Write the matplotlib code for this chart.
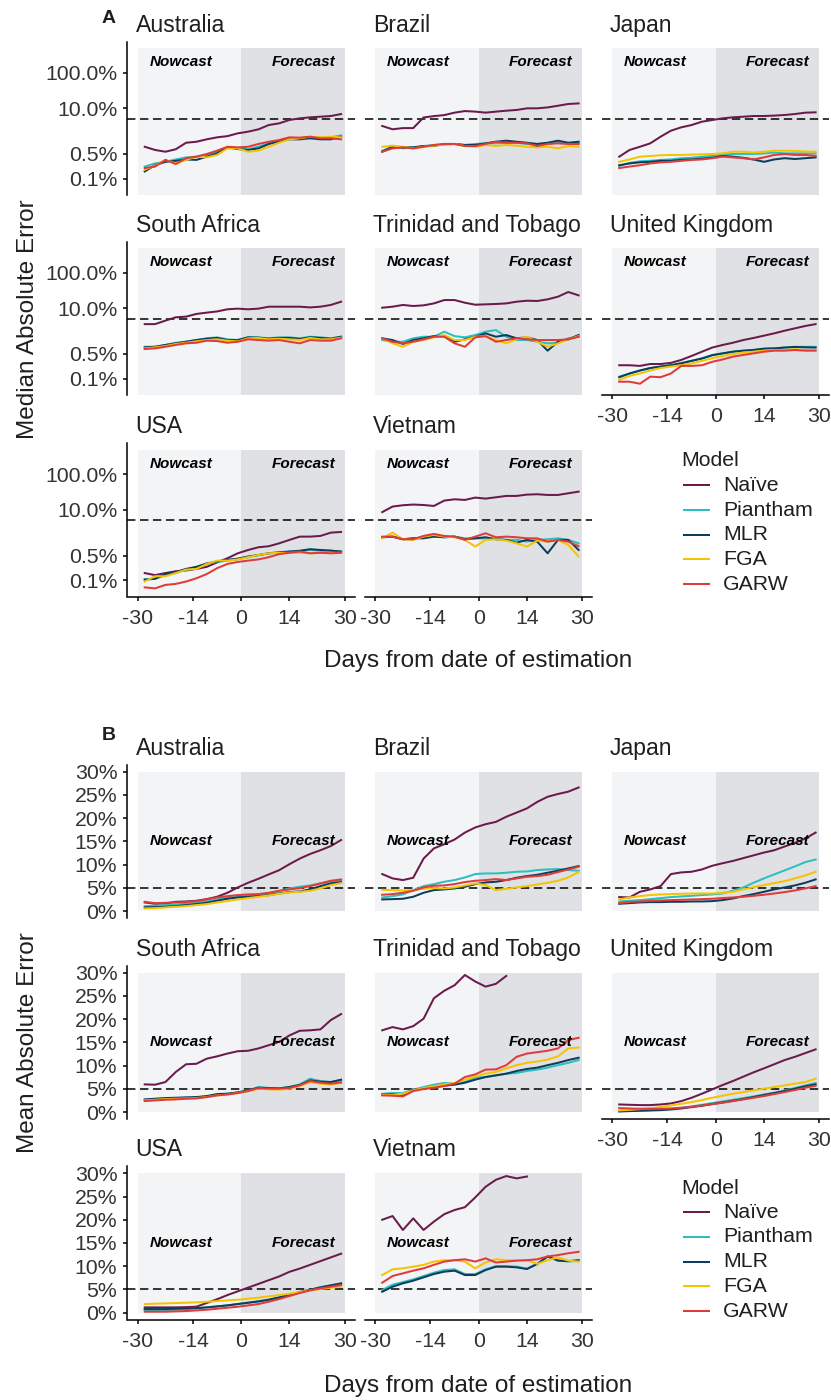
import matplotlib.pyplot as plt
from matplotlib.lines import Line2D
from matplotlib.patches import Rectangle
from matplotlib.ticker import NullLocator

plt.rcParams['font.family'] = ['Liberation Sans', 'DejaVu Sans']

nan = float('nan')

# days relative to the date of estimation
days = list(range(-28, 30, 3))
models = ['Naïve', 'Piantham', 'MLR', 'FGA', 'GARW']
colours = ['#6b1a4c', '#2cbfbf', '#0c3d5c', '#f5c400', '#e03b3b']
countries = ['Australia', 'Brazil', 'Japan', 'South Africa', 'Trinidad and Tobago',
             'United Kingdom', 'USA', 'Vietnam']

# median absolute error (%), rows follow `models`
med_australia = [
    [0.80, 0.65, 0.58, 0.68, 1.04, 1.11, 1.30, 1.48, 1.60, 1.92, 2.14, 2.49, 3.30, 3.68, 4.58, 5.10, 5.45, 5.68, 5.94, 6.76],
    [0.22, 0.27, 0.30, 0.35, 0.40, 0.42, 0.47, 0.58, 0.77, 0.72, 0.68, 0.80, 1.00, 1.19, 1.39, 1.39, 1.48, 1.42, 1.48, 1.68],
    [0.16, 0.24, 0.30, 0.32, 0.35, 0.34, 0.42, 0.52, 0.77, 0.69, 0.65, 0.72, 0.96, 1.14, 1.30, 1.30, 1.39, 1.30, 1.30, 1.54],
    [0.18, 0.23, 0.34, 0.27, 0.34, 0.42, 0.40, 0.47, 0.72, 0.72, 0.58, 0.62, 0.80, 1.04, 1.30, 1.39, 1.54, 1.48, 1.54, 1.48],
    [0.20, 0.22, 0.34, 0.26, 0.38, 0.42, 0.50, 0.62, 0.80, 0.77, 0.80, 0.96, 1.11, 1.24, 1.48, 1.45, 1.54, 1.39, 1.39, 1.30],
]
med_brazil = [
    [3.1, 2.5, 2.7, 2.7, 5.4, 5.9, 6.3, 7.4, 8.2, 7.9, 7.4, 7.9, 8.4, 8.8, 9.8, 9.8, 10.4, 11.6, 13.0, 13.5],
    [0.62, 0.80, 0.72, 0.77, 0.84, 0.90, 0.92, 0.96, 0.90, 0.96, 1.00, 1.00, 1.04, 1.04, 0.96, 0.96, 1.00, 1.04, 1.00, 1.04],
    [0.58, 0.80, 0.77, 0.77, 0.84, 0.84, 0.96, 0.96, 0.90, 0.90, 1.00, 1.11, 1.19, 1.11, 1.04, 0.96, 1.04, 1.19, 1.04, 1.11],
    [0.80, 0.86, 0.80, 0.72, 0.80, 0.86, 0.92, 0.96, 0.84, 0.80, 0.90, 0.84, 0.90, 0.86, 0.80, 0.77, 0.80, 0.72, 0.84, 0.80],
    [0.58, 0.72, 0.77, 0.72, 0.80, 0.90, 0.96, 0.96, 0.84, 0.84, 0.96, 1.11, 1.04, 1.04, 1.00, 0.84, 0.96, 1.00, 0.96, 0.96],
]
med_japan = [
    [0.42, 0.65, 0.80, 1.00, 1.54, 2.28, 2.84, 3.30, 4.10, 4.58, 5.10, 5.45, 5.68, 5.94, 5.94, 6.10, 6.34, 6.76, 7.38, 7.55],
    [0.23, 0.28, 0.31, 0.32, 0.34, 0.35, 0.38, 0.39, 0.42, 0.44, 0.48, 0.50, 0.50, 0.50, 0.52, 0.55, 0.52, 0.52, 0.52, 0.52],
    [0.24, 0.27, 0.29, 0.30, 0.32, 0.32, 0.34, 0.35, 0.37, 0.39, 0.44, 0.42, 0.39, 0.35, 0.30, 0.35, 0.38, 0.36, 0.38, 0.40],
    [0.30, 0.35, 0.42, 0.44, 0.46, 0.47, 0.47, 0.48, 0.49, 0.50, 0.52, 0.58, 0.58, 0.55, 0.58, 0.62, 0.62, 0.61, 0.59, 0.58],
    [0.20, 0.22, 0.24, 0.27, 0.29, 0.30, 0.32, 0.34, 0.35, 0.38, 0.42, 0.40, 0.38, 0.35, 0.40, 0.47, 0.50, 0.47, 0.47, 0.44],
]
med_south_africa = [
    [3.5, 3.5, 4.4, 5.45, 5.7, 6.8, 7.4, 8.0, 9.2, 9.6, 9.2, 9.6, 10.9, 10.9, 10.9, 10.9, 10.4, 10.9, 12.2, 15.1],
    [0.80, 0.80, 0.90, 1.04, 1.11, 1.24, 1.39, 1.48, 1.30, 1.24, 1.48, 1.48, 1.39, 1.48, 1.48, 1.39, 1.54, 1.48, 1.39, 1.54],
    [0.77, 0.80, 0.90, 1.00, 1.11, 1.24, 1.35, 1.42, 1.24, 1.24, 1.48, 1.45, 1.35, 1.42, 1.42, 1.33, 1.48, 1.42, 1.35, 1.54],
    [0.72, 0.77, 0.84, 0.96, 1.04, 1.14, 1.24, 1.30, 1.19, 1.14, 1.39, 1.42, 1.30, 1.35, 1.30, 1.24, 1.42, 1.30, 1.30, 1.45],
    [0.69, 0.72, 0.80, 0.90, 1.00, 1.04, 1.19, 1.16, 1.04, 1.11, 1.30, 1.24, 1.19, 1.24, 1.11, 1.00, 1.24, 1.19, 1.19, 1.39],
]
med_trinidad = [
    [10.2, 10.9, 12.2, 11.4, 11.9, 13.5, 16.8, 16.8, 14.1, 12.4, 12.7, 13.0, 13.5, 15.1, 16.1, 15.8, 17.6, 20.9, 28.4, 22.8],
    [1.24, 1.11, 1.11, 1.39, 1.54, 1.54, 2.14, 1.60, 1.48, 1.72, 2.14, 2.38, 1.54, 1.24, 1.24, 1.11, 1.00, 1.04, 1.39, 1.54],
    [1.39, 1.24, 0.96, 1.24, 1.39, 1.60, 1.60, 1.11, 1.30, 1.54, 1.92, 1.54, 1.72, 1.39, 1.48, 1.24, 0.62, 1.11, 1.30, 1.72],
    [1.39, 1.00, 0.80, 1.11, 1.24, 1.48, 1.72, 1.24, 1.24, 1.54, 1.60, 1.24, 1.00, 1.30, 1.54, 1.11, 0.80, 1.00, 1.30, 1.60],
    [1.39, 1.11, 1.00, 1.11, 1.30, 1.54, 1.54, 1.00, 0.80, 1.48, 1.60, 1.11, 1.24, 1.39, 1.30, 1.24, 1.24, 1.24, 1.30, 1.54],
]
med_uk = [
    [0.24, 0.24, 0.23, 0.26, 0.26, 0.28, 0.34, 0.44, 0.58, 0.76, 0.90, 1.04, 1.24, 1.42, 1.65, 1.92, 2.28, 2.66, 3.10, 3.50],
    [0.114, 0.14, 0.17, 0.20, 0.22, 0.24, 0.28, 0.32, 0.38, 0.47, 0.52, 0.58, 0.62, 0.65, 0.69, 0.72, 0.76, 0.80, 0.80, 0.80],
    [0.11, 0.14, 0.17, 0.20, 0.22, 0.24, 0.27, 0.32, 0.37, 0.46, 0.52, 0.58, 0.62, 0.65, 0.71, 0.72, 0.76, 0.79, 0.77, 0.76],
    [0.092, 0.12, 0.14, 0.17, 0.20, 0.22, 0.24, 0.27, 0.32, 0.38, 0.44, 0.50, 0.55, 0.58, 0.62, 0.65, 0.65, 0.68, 0.65, 0.65],
    [0.082, 0.082, 0.072, 0.114, 0.11, 0.14, 0.23, 0.23, 0.24, 0.30, 0.35, 0.42, 0.47, 0.52, 0.58, 0.62, 0.62, 0.65, 0.62, 0.62],
]
med_usa = [
    [0.16, 0.14, 0.16, 0.18, 0.19, 0.21, 0.24, 0.32, 0.42, 0.58, 0.72, 0.86, 0.92, 1.11, 1.39, 1.72, 1.72, 1.80, 2.23, 2.33],
    [0.105, 0.11, 0.14, 0.16, 0.20, 0.23, 0.29, 0.33, 0.36, 0.39, 0.45, 0.51, 0.58, 0.60, 0.65, 0.69, 0.72, 0.69, 0.69, 0.65],
    [0.105, 0.11, 0.15, 0.17, 0.21, 0.24, 0.30, 0.34, 0.38, 0.41, 0.47, 0.52, 0.58, 0.62, 0.65, 0.68, 0.76, 0.72, 0.69, 0.65],
    [0.092, 0.13, 0.13, 0.16, 0.20, 0.21, 0.29, 0.36, 0.36, 0.39, 0.45, 0.52, 0.58, 0.60, 0.60, 0.60, 0.58, 0.60, 0.60, 0.60],
    [0.063, 0.059, 0.074, 0.079, 0.092, 0.114, 0.15, 0.22, 0.29, 0.33, 0.36, 0.39, 0.45, 0.55, 0.60, 0.65, 0.58, 0.60, 0.58, 0.60],
]
med_vietnam = [
    [8.5, 12.2, 13.3, 13.9, 13.5, 12.7, 18.0, 19.6, 18.8, 21.9, 20.5, 22.3, 24.4, 24.4, 26.6, 27.2, 26.0, 26.0, 29.0, 32.3],
    [1.65, 1.72, 1.45, 1.54, 1.65, 1.72, 1.65, 1.72, 1.54, 1.54, 1.54, 1.45, 1.39, 1.39, 1.24, 1.39, 1.45, 1.54, 1.39, 1.11],
    [1.65, 1.72, 1.45, 1.54, 1.54, 1.72, 1.65, 1.72, 1.45, 1.54, 1.65, 1.45, 1.39, 1.16, 1.39, 1.24, 0.58, 1.39, 1.39, 0.72],
    [1.54, 2.23, 1.45, 1.39, 1.72, 1.92, 1.72, 1.65, 1.39, 0.90, 1.39, 1.45, 1.33, 1.11, 0.90, 1.33, 1.24, 1.39, 1.00, 0.47],
    [1.72, 1.72, 1.45, 1.45, 1.80, 2.05, 1.80, 1.72, 1.39, 1.72, 2.14, 1.65, 1.72, 1.65, 1.54, 1.54, 1.24, 1.39, 1.24, 0.92],
]

# mean absolute error (%), values above 30% are not shown
mean_australia = [
    [1.87, 1.58, 1.65, 2.00, 2.08, 2.23, 2.58, 3.09, 3.95, 5.10, 6.10, 6.96, 7.90, 8.80, 10.1, 11.3, 12.3, 13.1, 14.0, 15.3],
    [1.08, 1.15, 1.29, 1.44, 1.58, 1.79, 2.08, 2.51, 2.94, 3.09, 3.23, 3.45, 3.80, 4.31, 4.88, 5.24, 5.53, 5.96, 6.32, 6.68],
    [0.79, 0.86, 0.93, 1.08, 1.29, 1.51, 1.79, 2.23, 2.66, 2.94, 3.09, 3.23, 3.45, 3.80, 4.09, 4.24, 4.67, 5.38, 5.96, 6.25],
    [0.57, 0.65, 0.79, 0.93, 1.08, 1.29, 1.51, 1.87, 2.15, 2.51, 2.80, 3.09, 3.37, 3.73, 4.02, 4.16, 4.38, 4.88, 5.60, 6.03],
    [2.00, 1.72, 1.79, 1.87, 1.94, 2.15, 2.51, 2.94, 3.23, 3.45, 3.59, 3.66, 3.95, 4.38, 4.67, 4.95, 5.38, 5.96, 6.53, 6.82],
]
mean_brazil = [
    [7.97, 7.04, 6.68, 7.18, 11.3, 13.5, 14.4, 15.4, 16.9, 18.0, 18.7, 19.2, 20.3, 21.2, 22.1, 23.5, 24.6, 25.2, 25.7, 26.6],
    [2.94, 3.23, 3.59, 4.52, 5.38, 5.81, 6.32, 6.68, 7.25, 7.97, 8.11, 8.11, 8.26, 8.47, 8.54, 8.83, 8.97, 9.05, 8.83, 8.69],
    [2.51, 2.58, 2.66, 3.09, 3.95, 4.52, 4.67, 4.88, 5.24, 5.81, 6.17, 6.32, 6.68, 7.18, 7.54, 7.82, 8.26, 8.69, 9.19, 9.69],
    [4.59, 4.52, 4.45, 4.52, 4.81, 4.95, 4.88, 5.10, 5.53, 5.96, 5.60, 4.52, 4.81, 5.10, 5.38, 5.74, 6.10, 6.53, 7.25, 8.40],
    [3.52, 3.66, 3.95, 4.38, 5.10, 5.46, 5.53, 5.81, 6.25, 6.53, 6.68, 6.89, 6.68, 7.04, 7.39, 7.54, 7.82, 8.40, 8.97, 9.55],
]
mean_japan = [
    [3.02, 2.94, 4.16, 4.67, 5.38, 7.97, 8.33, 8.47, 8.97, 9.76, 10.3, 10.8, 11.4, 12.0, 12.6, 13.1, 13.9, 14.7, 15.6, 16.9],
    [2.08, 2.23, 2.37, 2.58, 2.80, 3.02, 3.16, 3.30, 3.45, 3.59, 3.80, 4.38, 5.10, 6.10, 7.04, 7.90, 8.76, 9.62, 10.55, 11.1],
    [1.58, 1.72, 1.87, 1.94, 1.94, 2.01, 2.01, 2.08, 2.08, 2.15, 2.37, 2.73, 3.23, 3.66, 4.16, 4.67, 5.10, 5.53, 6.10, 6.82],
    [2.51, 2.94, 3.23, 3.45, 3.59, 3.66, 3.73, 3.80, 3.80, 3.80, 3.95, 4.16, 4.67, 5.17, 5.60, 6.03, 6.46, 7.04, 7.68, 8.47],
    [1.72, 1.94, 2.08, 2.23, 2.30, 2.37, 2.44, 2.51, 2.58, 2.66, 2.80, 2.94, 3.09, 3.30, 3.52, 3.80, 4.09, 4.45, 4.88, 5.38],
]
mean_south_africa = [
    [5.97, 5.90, 6.47, 8.63, 10.3, 10.4, 11.5, 12.0, 12.6, 13.1, 13.2, 13.7, 14.4, 15.1, 16.5, 17.5, 17.6, 17.8, 19.8, 21.1],
    [2.66, 2.81, 2.95, 3.02, 3.09, 3.17, 3.38, 3.81, 3.96, 4.24, 4.68, 5.40, 5.18, 5.04, 5.40, 5.97, 7.19, 6.69, 6.47, 6.83],
    [2.73, 2.88, 3.02, 3.09, 3.17, 3.24, 3.45, 3.88, 3.96, 4.24, 4.68, 5.25, 5.18, 5.11, 5.40, 5.83, 6.83, 6.55, 6.47, 6.98],
    [2.52, 2.66, 2.81, 2.88, 2.95, 3.02, 3.24, 3.60, 3.74, 4.10, 4.53, 5.04, 4.89, 4.82, 5.04, 5.61, 6.47, 6.12, 5.97, 6.26],
    [2.37, 2.52, 2.66, 2.73, 2.88, 2.95, 3.24, 3.60, 3.81, 4.10, 4.53, 5.18, 5.04, 5.04, 5.18, 5.76, 6.69, 6.33, 6.12, 6.40],
]
mean_trinidad = [
    [17.6, 18.3, 17.8, 18.5, 20.1, 24.5, 26.1, 27.3, 29.5, 28.1, 27.0, 27.6, 29.3, nan, nan, nan, nan, nan, nan, nan],
    [3.96, 4.10, 4.10, 4.82, 5.40, 5.90, 6.26, 6.12, 6.47, 7.41, 7.55, 7.91, 8.27, 8.42, 8.85, 9.14, 9.57, 10.1, 10.6, 11.2],
    [3.88, 3.81, 3.67, 4.82, 5.04, 5.40, 5.68, 5.90, 6.33, 6.98, 7.55, 7.91, 8.27, 8.85, 9.28, 9.57, 10.1, 10.6, 11.2, 11.7],
    [3.81, 3.67, 3.96, 4.68, 5.18, 5.54, 5.97, 6.26, 6.98, 7.70, 8.27, 8.63, 9.42, 10.1, 10.6, 10.9, 11.3, 12.0, 13.7, 13.9],
    [3.60, 3.53, 3.38, 4.53, 4.96, 5.25, 5.61, 6.12, 7.55, 8.13, 9.14, 9.21, 10.1, 11.9, 12.6, 12.9, 13.2, 13.7, 15.5, 16.0],
]
mean_uk = [
    [1.65, 1.58, 1.51, 1.51, 1.65, 1.87, 2.37, 3.09, 3.96, 4.89, 5.83, 6.69, 7.63, 8.56, 9.42, 10.3, 11.2, 11.9, 12.7, 13.5],
    [0.22, 0.29, 0.36, 0.43, 0.58, 0.72, 0.94, 1.22, 1.58, 1.94, 2.30, 2.66, 3.02, 3.38, 3.81, 4.17, 4.68, 5.18, 5.76, 6.26],
    [0.14, 0.22, 0.29, 0.36, 0.43, 0.58, 0.79, 1.08, 1.37, 1.73, 2.09, 2.45, 2.81, 3.24, 3.67, 4.10, 4.53, 5.04, 5.54, 5.97],
    [0.36, 0.50, 0.65, 0.86, 1.08, 1.44, 1.80, 2.16, 2.59, 3.09, 3.53, 3.96, 4.32, 4.68, 5.04, 5.40, 5.76, 6.12, 6.47, 7.19],
    [0.86, 0.79, 0.72, 0.72, 0.72, 0.79, 0.94, 1.15, 1.44, 1.73, 2.01, 2.37, 2.73, 3.09, 3.45, 3.88, 4.32, 4.75, 5.25, 5.68],
]
mean_usa = [
    [1.15, 1.15, 1.15, 1.15, 1.20, 1.30, 2.10, 2.90, 3.80, 4.60, 5.40, 6.20, 7.00, 7.80, 8.80, 9.50, 10.3, 11.1, 11.9, 12.7],
    [0.57, 0.57, 0.57, 0.65, 0.79, 0.93, 1.15, 1.36, 1.58, 1.87, 2.15, 2.44, 2.80, 3.23, 3.80, 4.31, 4.88, 5.46, 5.89, 6.25],
    [0.79, 0.79, 0.79, 0.86, 0.93, 1.00, 1.15, 1.36, 1.58, 1.87, 2.15, 2.44, 2.80, 3.30, 3.88, 4.45, 4.95, 5.46, 5.89, 6.32],
    [1.87, 1.94, 2.01, 2.08, 2.15, 2.23, 2.37, 2.51, 2.66, 2.80, 3.02, 3.23, 3.52, 3.80, 4.09, 4.45, 4.81, 5.10, 5.38, 5.60],
    [0.22, 0.22, 0.22, 0.29, 0.36, 0.50, 0.65, 0.86, 1.08, 1.29, 1.58, 1.87, 2.37, 2.94, 3.59, 4.24, 4.81, 5.24, 5.60, 5.96],
]
mean_vietnam = [
    [20.0, 20.8, 17.8, 20.3, 17.8, 19.6, 21.2, 22.1, 22.7, 24.8, 27.1, 28.6, 29.4, 28.9, 29.3, nan, nan, nan, nan, nan],
    [4.88, 6.03, 6.60, 7.18, 7.90, 8.61, 9.19, 9.33, 8.33, 8.33, 9.33, 10.0, 10.0, 9.91, 9.48, 10.5, 12.1, 11.3, 11.0, 11.2],
    [4.52, 5.60, 6.32, 6.89, 7.61, 8.33, 8.83, 9.05, 8.11, 8.11, 9.19, 9.91, 9.91, 9.76, 9.40, 10.5, 12.1, 11.2, 11.1, 11.3],
    [8.11, 9.33, 9.55, 9.91, 10.3, 11.0, 11.3, 11.3, 11.0, 9.55, 10.8, 11.5, 11.3, 11.3, 11.3, 10.5, 11.3, 11.9, 11.2, 11.0],
    [6.46, 7.90, 8.47, 9.05, 9.55, 10.3, 11.0, 11.3, 11.5, 11.0, 11.7, 10.8, 11.0, 11.2, 11.3, 11.5, 12.1, 12.4, 12.8, 13.1],
]

median_err = [med_australia, med_brazil, med_japan, med_south_africa, med_trinidad,
              med_uk, med_usa, med_vietnam]
mean_err = [mean_australia, mean_brazil, mean_japan, mean_south_africa, mean_trinidad,
            mean_uk, mean_usa, mean_vietnam]

W, H = 831, 1400
fig = plt.figure(figsize=(W / 100, H / 100), dpi=100)

PW, PH = 227.4, 153.4
col_x = [127.5, 365.0, 602.0]
INK = '#1f1f1f'
TICK = '#333333'


def fx(x):
    return x / W


def fy(y):
    return 1 - y / H


def draw_block(data, tops, log_scale, tag, tag_y, ylabel, xlabel_y, legend_y):
    for i, country in enumerate(countries):
        r, c = divmod(i, 3)
        ax = fig.add_axes([fx(col_x[c]), fy(tops[r] + PH), PW / W, PH / H])
        ax.patch.set_visible(False)
        ax.set_xlim(-33, 33)
        if log_scale:
            ax.set_yscale('log')
            ax.set_ylim(0.0343, 753)
            ybot, ytop, ytext = 0.0343, 500, 200
            ax.set_yticks([0.1, 0.5, 10, 100])
            ax.set_yticklabels(['0.1%', '0.5%', '10.0%', '100.0%'])
            ax.yaxis.set_minor_locator(NullLocator())
        else:
            ax.set_ylim(-1.5, 31.5)
            ybot, ytop, ytext = 0, 30, 15
            ax.set_yticks([0, 5, 10, 15, 20, 25, 30])
            ax.set_yticklabels(['0%', '5%', '10%', '15%', '20%', '25%', '30%'])
        ax.add_patch(Rectangle((-30, ybot), 30, ytop - ybot, facecolor='#f3f4f6',
                               edgecolor='none', zorder=0))
        ax.add_patch(Rectangle((0, ybot), 30, ytop - ybot, facecolor='#e0e1e5',
                               edgecolor='none', zorder=0))
        ax.axhline(5, color='black', lw=1.1, linestyle=(0, (5.5, 3)), zorder=1)
        for vals, col in zip(data[i], colours):
            ax.plot(days, vals, color=col, lw=1.45, zorder=2)
        ax.text(-17.5, ytext, 'Nowcast', ha='center', va='center', fontsize=11,
                fontweight='bold', fontstyle='italic', color='black', zorder=3)
        ax.text(18, ytext, 'Forecast', ha='center', va='center', fontsize=11,
                fontweight='bold', fontstyle='italic', color='black', zorder=3)

        ax.set_xticks([-30, -14, 0, 14, 30])
        ax.set_xticklabels(['-30', '-14', '0', '14', '30'])
        for side in ('top', 'right'):
            ax.spines[side].set_visible(False)
        for side in ('left', 'bottom'):
            ax.spines[side].set_linewidth(1.1)
        ax.tick_params(length=3, width=1.1, labelsize=15.3, labelcolor=TICK)
        ax.tick_params(axis='y', pad=4.3)
        ax.tick_params(axis='x', pad=5.5)
        if c != 0:
            ax.spines['left'].set_visible(False)
            ax.tick_params(axis='y', left=False, labelleft=False)
        if not (r == 2 or (r == 1 and c == 2)):
            ax.spines['bottom'].set_visible(False)
            ax.tick_params(axis='x', bottom=False, labelbottom=False)

        fig.text(fx(col_x[c] + 8), fy(tops[r] - 10), country, fontsize=16.6,
                 color=INK, ha='left', va='baseline')

    fig.text(fx(109), fy(tag_y), tag, fontsize=14, fontweight='bold', color=INK,
             ha='center', va='baseline')
    mid = (tops[0] + tops[2] + PH) / 2
    fig.text(fx(28), fy(mid), ylabel, rotation=90, fontsize=17.5, color=INK,
             ha='center', va='center')
    fig.text(fx(478), fy(xlabel_y), 'Days from date of estimation', fontsize=17.5,
             color=INK, ha='center', va='center')

    # legend
    fig.text(fx(681.7), fy(legend_y), 'Model', fontsize=15.3, color=INK, va='center')
    for k, (m, col) in enumerate(zip(models, colours)):
        y = legend_y + 24.3 + 24.7 * k
        fig.add_artist(Line2D([fx(684), fx(709)], [fy(y), fy(y)], color=col, lw=1.45))
        fig.text(fx(723), fy(y), m, fontsize=15.3, color=INK, va='center')


draw_block(median_err, [41.7, 241.7, 443.3], True, 'A', 23.3,
           'Median Absolute Error', 661, 461)
draw_block(mean_err, [764.7, 965.7, 1166.3], False, 'B', 740,
           'Mean Absolute Error', 1386, 1188)

fig.savefig('out.png', dpi=100)
